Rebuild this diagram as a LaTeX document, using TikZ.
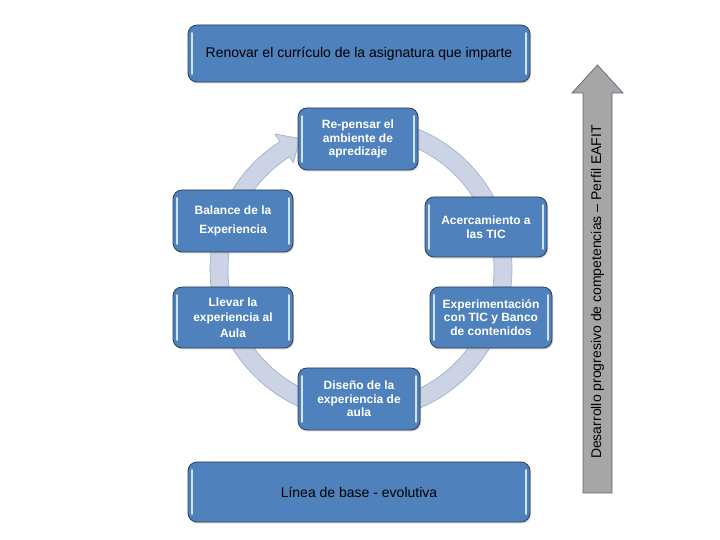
\documentclass[tikz,border=0pt]{standalone}
\usepackage{fontspec}
\setmainfont{Liberation Sans}
\usetikzlibrary{shadows,calc}
\definecolor{boxblue}{HTML}{4F81BD}
\definecolor{boxedge}{HTML}{2F3F55}
\definecolor{ringfill}{HTML}{CBD3E4}
\definecolor{ringedge}{HTML}{9CAACA}
\definecolor{hilite}{HTML}{CFE3FF}
\definecolor{arrowgray}{HTML}{A6A6A6}
\begin{document}
\begin{tikzpicture}[x=1pt,y=1pt,
  bluebox/.style={draw=boxedge, line width=0.8pt, fill=boxblue, rounded corners=9pt,
    drop shadow={shadow xshift=1pt,shadow yshift=-1.5pt,opacity=0.35},
    minimum width=#1, inner sep=2pt, align=center,
    path picture={
      \draw[hilite, line width=1.6pt, line cap=round]
        ([xshift=4pt,yshift=8pt]path picture bounding box.south west) --
        ([xshift=4pt,yshift=-8pt]path picture bounding box.north west);
      \draw[hilite, line width=1.6pt, line cap=round]
        ([xshift=-4pt,yshift=8pt]path picture bounding box.south east) --
        ([xshift=-4pt,yshift=-8pt]path picture bounding box.north east);
    }},
  widebox/.style={bluebox=342pt, text=black, font=\fontsize{14}{17}\selectfont},
  stagebox/.style={bluebox=#1, text=white, font=\bfseries\fontsize{12}{13.5}\selectfont}
]
\useasboundingbox (0,0) rectangle (720,540);
\fill[white] (0,0) rectangle (720,540);

% ring arrow
\coordinate (c) at (361,271);
\path[fill=ringfill, draw=ringedge, line width=0.6pt]
  ($(c)+(90:151)$) arc[start angle=90, end angle=-237.5, radius=151]
  -- ($(c)+(122.5:160)$) -- ($(c)+(115:144)$) -- ($(c)+(122.5:126)$)
  -- ($(c)+(122.5:133)$) arc[start angle=-237.5, end angle=90, radius=133] -- cycle;

% wide boxes
\node[widebox, minimum height=57pt] (top) at (359,486.5) {Renovar el currículo de la asignatura que imparte};
\node[widebox, minimum height=60pt] (base) at (359,48) {Línea de base - evolutiva};

% cycle stages
\node[stagebox=120pt, minimum height=62pt] (repensar) at (358,401) {Re-pensar el\\ambiente de\\apredizaje};
\node[stagebox=122pt, minimum height=60pt] (acerca) at (486,313) {Acercamiento a\\las TIC};
\node[stagebox=122pt, minimum height=61pt] (exper) at (491,222.5) {Experimentación\\con TIC y Banco\\de contenidos};
\node[stagebox=122pt, minimum height=62pt] (diseno) at (359,141) {Diseño de la\\experiencia de\\aula};
\node[stagebox=120pt, minimum height=61pt, font=\bfseries\fontsize{12}{15.5}\selectfont] (llevar) at (233,222.5) {Llevar la\\experiencia al\\Aula};
\node[stagebox=120pt, minimum height=62pt, font=\bfseries\fontsize{12}{19}\selectfont] (balance) at (233,319) {Balance de la\\Experiencia};

% vertical arrow
\coordinate (ab) at (597.5,47);
\coordinate (at) at (597.5,475);
\path[fill=arrowgray, draw=boxedge!80, line width=0.7pt]
  ($(ab)+(-14.5,0)$) -- ($(ab)+(14.5,0)$) -- ($(at)+(14.5,-28)$) -- ($(at)+(25.5,-28)$)
  -- (at) -- ($(at)+(-25.5,-28)$) -- ($(at)+(-14.5,-28)$) -- cycle;
\node[rotate=90, font=\fontsize{14}{17}\selectfont, text=black] (vlabel) at (597.5,248) {Desarrollo progresivo de competencias – Perfil EAFIT};
\end{tikzpicture}
\end{document}
